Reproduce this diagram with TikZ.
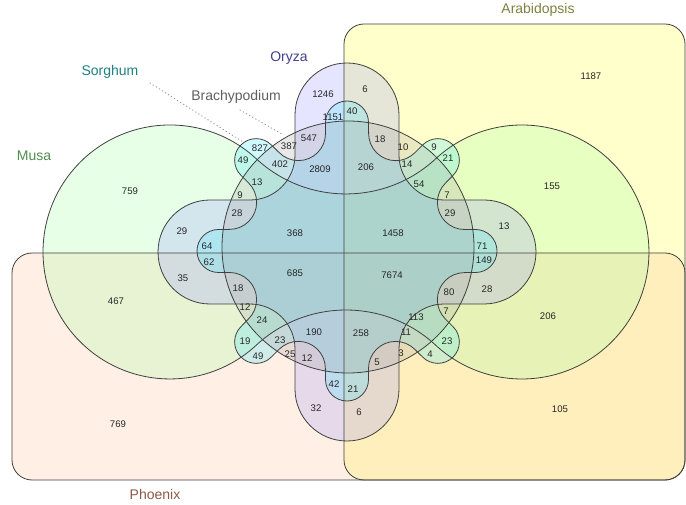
\documentclass[tikz,border=0pt]{standalone}
\usepackage{fontspec}
\setmainfont{Liberation Sans}
\usetikzlibrary{calc}
\definecolor{cA}{RGB}{255,255,51}
\definecolor{cP}{RGB}{255,195,150}
\definecolor{cM}{RGB}{163,255,163}
\definecolor{cO}{RGB}{155,155,255}
\definecolor{cS}{RGB}{70,230,255}
\definecolor{cB}{RGB}{165,165,165}
\definecolor{tA}{RGB}{128,128,64}
\definecolor{tP}{RGB}{140,90,70}
\definecolor{tM}{RGB}{80,140,80}
\definecolor{tO}{RGB}{64,64,144}
\definecolor{tS}{RGB}{32,128,128}
\definecolor{tB}{RGB}{96,96,96}
\begin{document}
\begin{tikzpicture}[x=1pt,y=1pt]
\tikzset{
  setfill/.style={fill opacity=0.25},
  outline/.style={draw=black!75, line width=0.8pt},
  num/.style={font=\fontsize{9.6}{10}\selectfont, text=black!85, inner sep=0pt},
  setlabel/.style={font=\fontsize{14}{16}\selectfont, inner sep=0pt},
  pointer/.style={draw=black!40, line width=1pt, dash pattern=on 0.6pt off 3pt, line cap=round}
}
\useasboundingbox (0,0) rectangle (686,504);
\fill[white] (0,0) rectangle (686,504);
\coordinate (O) at (347,253);
\def\pathA{(344,24) rectangle (685,480)}
\def\pathP{(12,24) rectangle (685,251)}
\def\pathM{(256.3,345.2) arc[start angle=47.2,end angle=312.8,radius=127] arc[start angle=132.8,end angle=47.2,radius=132] arc[start angle=-132.8,end angle=132.8,radius=127] arc[start angle=-47.2,end angle=-132.8,radius=132] -- cycle}
\def\pathO{(399,389) arc[start angle=0,end angle=180,radius=52] -- (295,349) arc[start angle=0,end angle=-90,radius=45] -- (210,304) arc[start angle=90,end angle=270,radius=52] -- (250,200) arc[start angle=90,end angle=0,radius=45] -- (295,115) arc[start angle=180,end angle=360,radius=52] -- (399,155) arc[start angle=180,end angle=90,radius=45] -- (484,200) arc[start angle=-90,end angle=90,radius=52] -- (444,304) arc[start angle=270,end angle=180,radius=45] -- cycle}
\def\pathS{($(O)+(0:117.5)+(-90:21.5)$) \foreach \p in {0,45,...,315}{ -- ($(O)+(\p:128.5)+({\p-90}:21.5)$) arc[start angle={\p-90},end angle={\p+90},radius=21.5] -- ($(O)+(\p:117.5)+({\p+90}:21.5)$) arc[start angle={\p+270},end angle={\p+135},radius=27.1] } -- cycle}
\def\pathB{(348,257) circle[radius=126]}
% fills
\fill[setfill, fill=cA, rounded corners=20pt] \pathA;
\fill[setfill, fill=cP, rounded corners=20pt] \pathP;
\fill[setfill, fill=cM] \pathM;
\fill[setfill, fill=cO] \pathO;
\fill[setfill, fill=cS] \pathS;
\fill[setfill, fill=cB] \pathB;
% outlines
\draw[outline, rounded corners=20pt] \pathA;
\draw[outline, rounded corners=20pt] \pathP;
\draw[outline] \pathM;
\draw[outline] \pathO;
\draw[outline] \pathS;
\draw[outline] \pathB;
% set labels
\node[setlabel, text=tA] (lA) at (538,494) {Arabidopsis};
\node[setlabel, text=tO] (lO) at (289,446) {Oryza};
\node[setlabel, text=tS] (lS) at (110,432) {Sorghum};
\node[setlabel, text=tB] (lB) at (236,407) {Brachypodium};
\node[setlabel, text=tM] (lM) at (34,348) {Musa};
\node[setlabel, text=tP] (lP) at (155,10) {Phoenix};
\coordinate (ps0) at (150,421);
\coordinate (ps1) at (243,362);
\coordinate (pb0) at (240,394);
\coordinate (pb1) at (282,370);
\draw[pointer] (ps0) -- (ps1);
\draw[pointer] (pb0) -- (pb1);
% numbers
\node[num] (n1) at (591,428) {1187};
\node[num] (n2) at (323,410) {1246};
\node[num] (n3) at (365,415) {6};
\node[num] (n4) at (333,387) {1151};
\node[num] (n5) at (352,393) {40};
\node[num] (n6) at (309,366) {547};
\node[num] (n7) at (289,358) {387};
\node[num] (n8) at (260,356) {827};
\node[num] (n9) at (243,344) {49};
\node[num] (n10) at (280,340) {402};
\node[num] (n11) at (320,335) {2809};
\node[num] (n12) at (380,365) {18};
\node[num] (n13) at (403,357) {10};
\node[num] (n14) at (434,357) {9};
\node[num] (n15) at (448,346) {21};
\node[num] (n16) at (407,340) {14};
\node[num] (n17) at (366,337) {206};
\node[num] (n18) at (419,320) {54};
\node[num] (n19) at (447,309) {7};
\node[num] (n20) at (450,291) {29};
\node[num] (n21) at (504,278) {13};
\node[num] (n22) at (552,318) {155};
\node[num] (n23) at (130,313) {759};
\node[num] (n24) at (182,273) {29};
\node[num] (n25) at (257,322) {13};
\node[num] (n26) at (240,309) {9};
\node[num] (n27) at (237,291) {28};
\node[num] (n28) at (295,271) {368};
\node[num] (n29) at (393,271) {1458};
\node[num] (n30) at (207,258) {64};
\node[num] (n31) at (209,242) {62};
\node[num] (n32) at (482,258) {71};
\node[num] (n33) at (484,244) {149};
\node[num] (n34) at (183,226) {35};
\node[num] (n35) at (295,231) {685};
\node[num] (n36) at (392,229) {7674};
\node[num] (n37) at (487,215) {28};
\node[num] (n38) at (116,203) {467};
\node[num] (n39) at (238,216) {18};
\node[num] (n40) at (449,212) {80};
\node[num] (n41) at (245,197) {12};
\node[num] (n42) at (446,193) {7};
\node[num] (n43) at (262,184) {24};
\node[num] (n44) at (416,187) {113};
\node[num] (n45) at (314,172) {190};
\node[num] (n46) at (361,171) {258};
\node[num] (n47) at (406,172) {11};
\node[num] (n48) at (280,164) {23};
\node[num] (n49) at (245,163) {19};
\node[num] (n50) at (447,163) {23};
\node[num] (n51) at (548,188) {206};
\node[num] (n52) at (258,148) {49};
\node[num] (n53) at (290,150) {25};
\node[num] (n54) at (307,146) {12};
\node[num] (n55) at (401,151) {3};
\node[num] (n56) at (430,150) {4};
\node[num] (n57) at (377,142) {5};
\node[num] (n58) at (334,120) {42};
\node[num] (n59) at (353,115) {21};
\node[num] (n60) at (316,96) {32};
\node[num] (n61) at (359,92) {6};
\node[num] (n62) at (560,95) {105};
\node[num] (n63) at (118,80) {769};
\end{tikzpicture}
\end{document}
